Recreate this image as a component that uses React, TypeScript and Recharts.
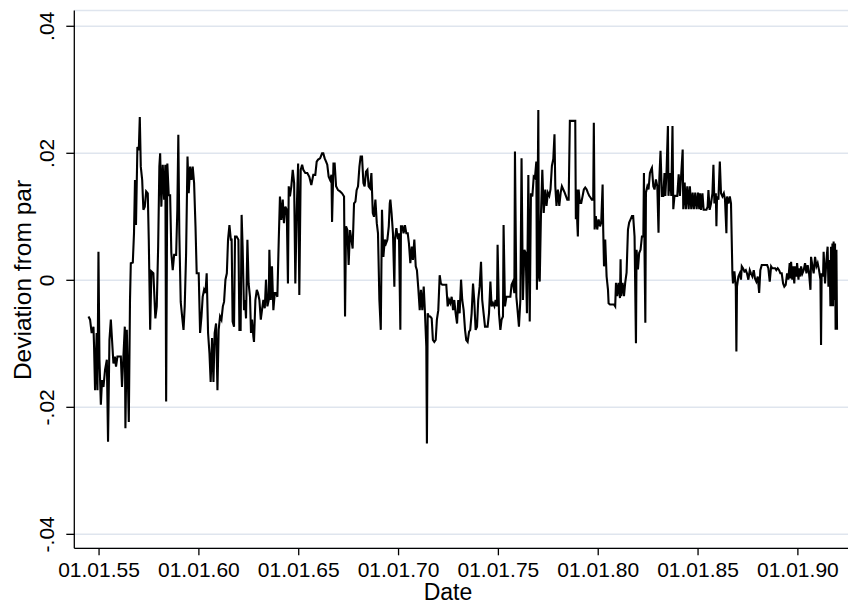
import React from 'react';
import { LineChart, Line, XAxis, YAxis, CartesianGrid, Label } from 'recharts';

// Deviation from par: [decimal year, value]
const period1850s: [number, number][] = [
  [1854.47,-0.0057],[1854.55,-0.0062],[1854.63,-0.0083],[1854.72,-0.0073],[1854.75,-0.0104],[1854.80,-0.0173],[1854.88,-0.0083],[1854.92,-0.0173],[1854.97,0.0045],[1855.02,-0.0125],[1855.09,-0.0196],[1855.15,-0.0157],[1855.22,-0.0168],[1855.30,-0.0141],[1855.39,-0.0125],[1855.45,-0.0254],[1855.52,-0.0094],[1855.59,-0.0062],[1855.65,-0.0094],[1855.72,-0.0131],[1855.79,-0.0120],[1855.85,-0.0136],[1855.92,-0.0120],[1856.02,-0.0120],[1856.09,-0.0120],[1856.15,-0.0168],[1856.22,-0.0120],[1856.29,-0.0073],[1856.32,-0.0233],[1856.39,-0.0078],[1856.49,-0.0223],[1856.55,-0.0031],[1856.59,0.0027],[1856.69,0.0028],[1856.75,0.0074],[1856.80,0.0158],[1856.85,0.0087],[1856.92,0.0210],[1856.99,0.0205],[1857.04,0.0257],[1857.09,0.0179],[1857.16,0.0158],[1857.22,0.0111],[1857.29,0.0116],[1857.36,0.0140],[1857.44,0.0137],[1857.49,0.0064],[1857.56,-0.0078],[1857.62,0.0014],[1857.72,0.0011],[1857.82,-0.0060],[1857.89,-0.0041],[1857.96,0.0053],[1858.02,0.0179],[1858.06,0.0200],[1858.12,0.0116],[1858.19,0.0182],[1858.26,0.0127],[1858.32,0.0182],[1858.36,-0.0191],[1858.42,0.0184],[1858.49,0.0134],[1858.56,0.0134],[1858.62,0.0043],[1858.69,0.0016],[1858.76,0.0040],[1858.86,0.0040],[1858.92,0.0111],[1858.97,0.0229],[1859.02,0.0074],[1859.09,-0.0034],[1859.16,-0.0057],[1859.23,-0.0078],[1859.29,-0.0041],[1859.36,0.0043],[1859.43,0.0195],[1859.49,0.0137],[1859.56,0.0179],[1859.63,0.0158],[1859.69,0.0179],[1859.76,0.0153],[1859.83,0.0085],[1859.89,0.0011],[1859.99,0.0011],[1860.06,-0.0083],[1860.13,-0.0057],[1860.19,-0.0026],[1860.26,-0.0015],[1860.33,-0.0020],[1860.39,0.0011],[1860.46,-0.0083],[1860.53,-0.0115],[1860.59,-0.0160],[1860.66,-0.0091],[1860.73,-0.0160],[1860.79,-0.0083],[1860.86,-0.0068],[1860.93,-0.0173],[1860.99,-0.0078],[1861.06,-0.0057],[1861.13,-0.0062],[1861.20,-0.0041],[1861.26,-0.0034],[1861.33,0.0001],[1861.40,0.0011],[1861.46,0.0064],[1861.53,0.0087],[1861.60,0.0064],
];

const period1860s: [number, number][] = [
  [1861.64,0.0064],[1861.69,-0.0065],[1861.76,-0.0073],[1861.81,0.0069],[1861.89,0.0069],[1861.98,0.0064],[1862.03,-0.0078],[1862.09,-0.0078],[1862.14,0.0103],[1862.19,0.0053],[1862.26,-0.0047],[1862.31,-0.0031],[1862.36,-0.0060],[1862.43,0.0064],[1862.49,-0.0005],[1862.56,-0.0026],[1862.61,-0.0083],[1862.66,-0.0062],[1862.73,-0.0089],[1862.76,-0.0097],[1862.83,-0.0031],[1862.90,-0.0015],[1862.96,-0.0020],[1863.03,-0.0031],[1863.10,-0.0062],[1863.16,-0.0047],[1863.23,-0.0031],[1863.30,-0.0044],[1863.36,0.0001],[1863.43,-0.0041],[1863.50,-0.0031],[1863.53,0.0048],[1863.60,-0.0031],[1863.66,0.0022],[1863.73,-0.0047],[1863.80,-0.0020],[1863.86,-0.0020],[1863.93,-0.0026],[1864.00,0.0064],[1864.06,0.0132],[1864.13,0.0095],[1864.20,0.0127],[1864.26,0.0090],[1864.33,0.0116],[1864.40,0.0111],[1864.46,-0.0005],[1864.50,0.0148],[1864.56,0.0132],[1864.63,0.0148],[1864.70,0.0174],[1864.77,0.0153],[1864.83,-0.0005],[1864.90,0.0111],[1864.97,0.0184],[1865.03,-0.0023],[1865.10,0.0174],[1865.17,0.0182],[1865.23,0.0174],[1865.33,0.0169],[1865.43,0.0169],[1865.53,0.0163],[1865.63,0.0150],[1865.73,0.0166],[1865.83,0.0166],[1865.90,0.0187],[1865.97,0.0190],[1866.07,0.0192],[1866.17,0.0200],[1866.23,0.0200],[1866.30,0.0192],[1866.37,0.0187],[1866.43,0.0182],[1866.50,0.0163],[1866.57,0.0158],[1866.64,0.0166],[1866.67,0.0092],[1866.74,0.0184],[1866.80,0.0184],[1866.87,0.0148],[1866.97,0.0142],[1867.07,0.0140],[1867.17,0.0137],[1867.27,0.0132],[1867.32,-0.0057],[1867.37,0.0085],[1867.44,0.0079],[1867.50,0.0024],[1867.57,0.0079],[1867.64,0.0064],[1867.70,0.0050],[1867.77,0.0121],[1867.84,0.0124],[1867.90,0.0142],[1867.97,0.0148],[1868.04,0.0179],[1868.10,0.0195],[1868.17,0.0195],[1868.24,0.0153],[1868.30,0.0148],[1868.37,0.0171],[1868.44,0.0174],[1868.50,0.0148],[1868.57,0.0145],[1868.64,0.0169],[1868.71,0.0106],[1868.77,0.0100],[1868.84,0.0127],[1868.91,0.0090],[1868.97,0.0074],[1869.04,-0.0031],[1869.11,-0.0078],[1869.17,0.0111],[1869.24,0.0037],[1869.31,0.0064],[1869.37,0.0058],[1869.44,0.0064],[1869.51,0.0085],[1869.56,0.0121],
];

const period1870s: [number, number][] = [
  [1869.59,0.0127],[1869.65,0.0106],[1869.72,0.0074],[1869.79,-0.0010],[1869.82,0.0064],[1869.89,0.0082],[1869.95,0.0069],[1870.02,0.0074],[1870.09,-0.0078],[1870.12,0.0085],[1870.19,0.0085],[1870.25,0.0074],[1870.32,0.0087],[1870.39,0.0074],[1870.46,0.0074],[1870.52,0.0058],[1870.59,0.0027],[1870.66,0.0053],[1870.72,0.0032],[1870.79,0.0064],[1870.86,0.0022],[1870.92,0.0016],[1870.99,-0.0013],[1871.06,-0.0047],[1871.12,-0.0015],[1871.19,-0.0047],[1871.26,-0.0010],[1871.32,-0.0049],[1871.39,-0.0104],[1871.42,-0.0257],[1871.46,-0.0052],[1871.52,-0.0057],[1871.59,-0.0057],[1871.66,-0.0060],[1871.72,-0.0094],[1871.79,-0.0097],[1871.86,-0.0094],[1871.92,-0.0062],[1871.99,-0.0047],[1872.06,0.0008],[1872.12,-0.0005],[1872.19,-0.0007],[1872.26,-0.0007],[1872.32,-0.0007],[1872.39,-0.0007],[1872.46,-0.0041],[1872.53,-0.0031],[1872.59,-0.0036],[1872.66,-0.0026],[1872.73,-0.0047],[1872.79,-0.0031],[1872.86,-0.0052],[1872.93,-0.0068],[1872.99,-0.0031],[1873.06,-0.0052],[1873.13,0.0001],[1873.19,-0.0031],[1873.26,-0.0047],[1873.33,-0.0078],[1873.39,-0.0094],[1873.46,-0.0097],[1873.53,-0.0081],[1873.59,-0.0078],[1873.66,-0.0052],[1873.73,-0.0005],[1873.79,-0.0031],[1873.86,-0.0078],[1873.93,-0.0073],[1873.99,-0.0031],[1874.06,-0.0010],[1874.13,0.0029],[1874.19,-0.0031],[1874.26,-0.0052],[1874.33,-0.0073],[1874.40,-0.0073],[1874.46,-0.0073],[1874.53,-0.0052],[1874.60,-0.0002],[1874.66,-0.0041],[1874.73,-0.0036],[1874.80,-0.0041],[1874.86,-0.0031],[1874.93,-0.0041],[1874.96,0.0056],[1875.03,-0.0052],[1875.10,-0.0078],[1875.16,-0.0062],[1875.23,-0.0057],[1875.26,0.0087],[1875.33,-0.0041],[1875.40,-0.0026],[1875.46,-0.0026],[1875.53,-0.0026],[1875.60,-0.0026],[1875.66,-0.0007],[1875.73,-0.0002],[1875.80,-0.0020],[1875.83,0.0203],[1875.90,-0.0026],[1875.96,-0.0047],[1876.03,-0.0073],[1876.10,-0.0031],[1876.16,0.0192],[1876.23,-0.0031],[1876.30,0.0048],[1876.37,0.0043],[1876.43,-0.0052],[1876.50,0.0166],[1876.57,-0.0065],[1876.63,0.0137],[1876.70,0.0132],[1876.77,0.0163],[1876.83,0.0161],[1876.90,0.0187],[1876.93,-0.0015],[1877.00,0.0268],[1877.03,0.0006],[1877.07,-0.0002],[1877.13,0.0100],[1877.20,0.0174],[1877.27,0.0106],[1877.32,0.0132],
];

const period1880s: [number, number][] = [
  [1877.35,0.0143],[1877.41,0.0117],[1877.48,0.0138],[1877.55,0.0133],[1877.61,0.0143],[1877.68,0.0180],[1877.75,0.0191],[1877.81,0.0230],[1877.85,0.0148],[1877.91,0.0117],[1877.98,0.0143],[1878.05,0.0117],[1878.12,0.0138],[1878.18,0.0148],[1878.25,0.0143],[1878.32,0.0138],[1878.38,0.0133],[1878.45,0.0127],[1878.52,0.0127],[1878.58,0.0251],[1878.68,0.0251],[1878.78,0.0251],[1878.85,0.0251],[1878.88,0.0096],[1878.92,0.0143],[1878.95,0.0091],[1878.98,0.0069],[1879.02,0.0143],[1879.08,0.0122],[1879.15,0.0122],[1879.22,0.0133],[1879.28,0.0143],[1879.35,0.0146],[1879.42,0.0143],[1879.48,0.0138],[1879.55,0.0133],[1879.62,0.0130],[1879.68,0.0127],[1879.75,0.0127],[1879.78,0.0248],[1879.82,0.0080],[1879.88,0.0101],[1879.95,0.0080],[1880.02,0.0096],[1880.09,0.0085],[1880.15,0.0091],[1880.22,0.0151],[1880.25,0.0080],[1880.29,0.0022],[1880.35,0.0064],[1880.42,0.0006],[1880.49,-0.0015],[1880.52,-0.0036],[1880.59,-0.0038],[1880.65,-0.0038],[1880.72,-0.0038],[1880.79,-0.0038],[1880.85,-0.0041],[1880.89,-0.0004],[1880.95,-0.0025],[1881.02,-0.0004],[1881.09,-0.0028],[1881.12,0.0033],[1881.15,-0.0025],[1881.22,-0.0004],[1881.29,-0.0025],[1881.35,-0.0004],[1881.42,0.0012],[1881.49,0.0080],[1881.55,0.0091],[1881.62,0.0096],[1881.69,0.0101],[1881.75,0.0101],[1881.82,0.0069],[1881.89,-0.0099],[1881.92,0.0048],[1881.99,0.0017],[1882.05,0.0043],[1882.12,0.0048],[1882.19,0.0069],[1882.26,0.0069],[1882.29,0.0169],[1882.32,0.0043],[1882.36,-0.0067],[1882.39,0.0138],[1882.46,0.0148],[1882.52,0.0143],[1882.59,0.0169],[1882.66,0.0175],[1882.69,0.0177],[1882.76,0.0148],[1882.82,0.0143],[1882.89,0.0159],[1882.96,0.0148],[1883.02,0.0075],[1883.06,0.0159],[1883.12,0.0204],[1883.19,0.0133],[1883.26,0.0133],[1883.32,0.0169],[1883.36,0.0133],[1883.42,0.0169],[1883.49,0.0243],[1883.52,0.0133],[1883.59,0.0169],[1883.66,0.0133],[1883.72,0.0243],[1883.76,0.0112],[1883.82,0.0133],[1883.89,0.0133],[1883.96,0.0133],[1884.03,0.0167],[1884.09,0.0133],[1884.16,0.0169],[1884.23,0.0206],[1884.26,0.0112],[1884.33,0.0154],[1884.39,0.0112],[1884.46,0.0148],[1884.53,0.0112],[1884.59,0.0148],[1884.66,0.0112],[1884.73,0.0138],[1884.79,0.0112],[1884.86,0.0138],[1884.93,0.0112],[1885.00,0.0138],[1885.06,0.0112],
];

const period1890s: [number, number][] = [
  [1885.10,0.0137],[1885.15,0.0111],[1885.22,0.0137],[1885.28,0.0111],[1885.35,0.0111],[1885.42,0.0111],[1885.48,0.0116],[1885.52,0.0142],[1885.58,0.0111],[1885.65,0.0121],[1885.72,0.0137],[1885.77,0.0182],[1885.82,0.0121],[1885.89,0.0137],[1885.92,0.0085],[1885.95,0.0132],[1886.02,0.0127],[1886.09,0.0187],[1886.15,0.0137],[1886.22,0.0132],[1886.29,0.0137],[1886.35,0.0127],[1886.42,0.0074],[1886.45,0.0132],[1886.52,0.0121],[1886.59,0.0132],[1886.65,0.0121],[1886.72,0.0011],[1886.75,-0.0005],[1886.82,0.0014],[1886.89,-0.0010],[1886.92,-0.0112],[1886.95,-0.0010],[1887.02,0.0006],[1887.09,0.0011],[1887.15,0.0001],[1887.19,0.0022],[1887.25,0.0019],[1887.32,0.0014],[1887.39,0.0016],[1887.45,0.0011],[1887.52,0.0001],[1887.59,0.0016],[1887.65,0.0011],[1887.72,0.0006],[1887.79,0.0016],[1887.85,0.0003],[1887.92,-0.0002],[1887.99,0.0006],[1888.06,-0.0020],[1888.12,0.0016],[1888.19,0.0024],[1888.26,0.0024],[1888.36,0.0024],[1888.46,0.0024],[1888.52,0.0019],[1888.59,-0.0002],[1888.66,0.0022],[1888.72,0.0019],[1888.79,0.0019],[1888.86,0.0019],[1888.92,0.0016],[1888.99,0.0019],[1889.06,0.0016],[1889.12,0.0011],[1889.19,0.0011],[1889.26,-0.0005],[1889.32,-0.0010],[1889.39,-0.0007],[1889.46,0.0011],[1889.52,0.0001],[1889.59,0.0027],[1889.62,0.0003],[1889.66,0.0029],[1889.72,0.0001],[1889.76,0.0022],[1889.82,-0.0005],[1889.86,0.0022],[1889.93,0.0006],[1889.96,0.0027],[1890.03,0.0001],[1890.06,0.0019],[1890.13,0.0006],[1890.16,0.0022],[1890.23,0.0011],[1890.29,0.0016],[1890.36,0.0027],[1890.43,0.0011],[1890.49,0.0024],[1890.56,0.0011],[1890.63,-0.0015],[1890.66,0.0037],[1890.73,0.0022],[1890.79,0.0011],[1890.86,0.0037],[1890.93,0.0022],[1890.99,0.0027],[1891.06,0.0016],[1891.13,0.0001],[1891.16,-0.0102],[1891.19,0.0011],[1891.26,0.0006],[1891.29,0.0045],[1891.36,-0.0005],[1891.43,0.0032],[1891.49,0.0053],[1891.53,-0.0010],[1891.59,0.0032],[1891.63,-0.0041],[1891.66,0.0053],[1891.69,-0.0041],[1891.73,0.0058],[1891.76,-0.0041],[1891.79,0.0061],[1891.83,-0.0031],[1891.86,0.0058],[1891.89,-0.0078],[1891.93,0.0048],[1891.96,-0.0078],
];

const xTicks = [1855, 1860, 1865, 1870, 1875, 1880, 1885, 1890];
const yTicks = [-0.04, -0.02, 0, 0.02, 0.04];
const xTitle = 'Date';
const yTitle = 'Deviation from par';

const data = [...period1850s, ...period1860s, ...period1870s, ...period1880s, ...period1890s].map(
  ([t, v]) => ({ t, v })
);

const FONT = '"Liberation Sans", Arial, Helvetica, sans-serif';

const fmtX = (v: number) => '01.01.' + String(v).slice(2);
const fmtY = (v: number) =>
  v === 0 ? '0' : (v < 0 ? '-' : '') + Math.abs(v).toFixed(2).replace(/^0/, '');

const YTick = (props: any) => {
  const { x, y, payload } = props;
  return (
    <text
      transform={`translate(${x - 17.8},${y}) rotate(-90)`}
      textAnchor="middle"
      dy="0.36em"
      fontSize={21}
      fontFamily={FONT}
      fill="#000"
    >
      {fmtY(payload.value)}
    </text>
  );
};

export default function App() {
  return (
    <div style={{ position: 'absolute', left: 0, top: 0, width: 857, height: 608, background: '#fff' }}>
      <LineChart width={857} height={608} data={data} margin={{ top: 10.6, right: 9, bottom: 0, left: 0 }}>
        <CartesianGrid vertical={false} stroke="#dfe5ee" strokeWidth={1.5} />
        <XAxis
          type="number"
          dataKey="t"
          domain={[1853.76, 1892.51]}
          ticks={xTicks}
          tickFormatter={fmtX}
          height={59.7}
          tickSize={7}
          tickMargin={7}
          axisLine={{ stroke: '#000', strokeWidth: 1.3 }}
          tickLine={{ stroke: '#000', strokeWidth: 1.3 }}
          tick={{ fontSize: 21, fill: '#000', fontFamily: FONT }}
          interval={0}
          allowDataOverflow
        >
          <Label
            content={() => (
              <text x={448} y={600} textAnchor="middle" fontSize={23} fontFamily={FONT} fill="#000">
                {xTitle}
              </text>
            )}
          />
        </XAxis>
        <YAxis
          type="number"
          domain={[-0.0422, 0.04247]}
          ticks={yTicks}
          width={74.3}
          tickSize={8}
          tickMargin={2}
          axisLine={{ stroke: '#000', strokeWidth: 1.3 }}
          tickLine={{ stroke: '#000', strokeWidth: 1.3 }}
          tick={<YTick />}
          interval={0}
          allowDataOverflow
        >
          <Label
            content={() => (
              <text
                transform="translate(22,280) rotate(-90)"
                textAnchor="middle"
                dy="0.36em"
                fontSize={24.5}
                fontFamily={FONT}
                fill="#000"
              >
                {yTitle}
              </text>
            )}
          />
        </YAxis>
        <Line
          type="linear"
          dataKey="v"
          stroke="#000"
          strokeWidth={2.1}
          dot={false}
          isAnimationActive={false}
        />
      </LineChart>
    </div>
  );
}
